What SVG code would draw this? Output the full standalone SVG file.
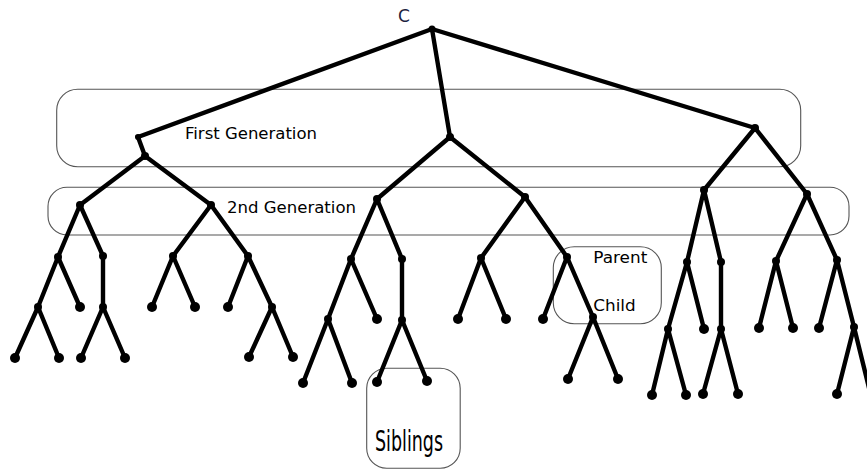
<svg xmlns="http://www.w3.org/2000/svg" width="867" height="470" viewBox="0 0 867 470">
<style>
.box{fill:none;stroke:#555;stroke-width:1.1}
.e{stroke:#000;stroke-width:4.4;stroke-linecap:round;fill:none}
.n{fill:#000}
.lf{fill:#000}
.lbl{font-family:"DejaVu Sans","Liberation Sans",sans-serif;fill:#000}
</style>
<rect width="867" height="470" fill="#fff"/>
<g id="annotations">
  <g id="box-first-generation"><rect class="box" x="56.7" y="89.3" width="744" height="77.4" rx="21" ry="21"/><text class="lbl" x="185" y="139" font-size="16" textLength="132" lengthAdjust="spacingAndGlyphs">First Generation</text></g>
  <g id="box-second-generation"><rect class="box" x="48" y="187.3" width="801" height="47.7" rx="19" ry="19"/><text class="lbl" x="227" y="213.3" font-size="16" textLength="129" lengthAdjust="spacingAndGlyphs">2nd Generation</text></g>
  <g id="box-parent-child"><rect class="box" x="553.3" y="246.7" width="108" height="77" rx="21" ry="21"/><text class="lbl" x="593.3" y="262.7" font-size="15" textLength="54" lengthAdjust="spacingAndGlyphs">Parent</text><text class="lbl" x="593.3" y="310.7" font-size="16" textLength="42.4" lengthAdjust="spacingAndGlyphs">Child</text></g>
  <g id="box-siblings"><rect class="box" x="366.7" y="368.3" width="93.5" height="100" rx="20" ry="20"/><text class="lbl" x="375" y="450.7" font-size="29" textLength="68" lengthAdjust="spacingAndGlyphs">Siblings</text></g>
</g>
<g id="connectors">
  <path class="e" d="M432,29 L138,137 L145,156"/>
  <path class="e" d="M432,29 L450,137"/>
  <path class="e" d="M432,29 L755,128"/>
  <path class="e" d="M145,156 L80,205 M145,156 L211,205"/>
  <path class="e" d="M80,205 L58,257 M80,205 L103,256"/>
  <path class="e" d="M58,257 L38,307 M58,257 L80,307"/>
  <path class="e" d="M38,307 L15,358 M38,307 L59,358"/>
  <path class="e" d="M103,256 L103,307"/>
  <path class="e" d="M103,307 L81,358 M103,307 L125,358"/>
  <path class="e" d="M211,205 L173,256 M211,205 L248,256"/>
  <path class="e" d="M173,256 L152,307 M173,256 L195,307"/>
  <path class="e" d="M248,256 L228,307 M248,256 L272,307"/>
  <path class="e" d="M272,307 L249,357 M272,307 L293,357"/>
  <path class="e" d="M450,137 L377,199 M450,137 L525,197"/>
  <path class="e" d="M377,199 L351,259 M377,199 L402,259"/>
  <path class="e" d="M351,259 L328,319 M351,259 L377,319"/>
  <path class="e" d="M328,319 L303,383 M328,319 L352,383"/>
  <path class="e" d="M402,259 L402,320"/>
  <path class="e" d="M402,320 L377,382 M402,320 L427,381"/>
  <path class="e" d="M525,197 L481,258 M525,197 L567,257"/>
  <path class="e" d="M481,258 L458,319 M481,258 L506,319"/>
  <path class="e" d="M567,257 L543,319 M567,257 L593,317"/>
  <path class="e" d="M593,317 L568,379 M593,317 L618,379"/>
  <path class="e" d="M755,128 L704,190 M755,128 L807,194"/>
  <path class="e" d="M704,190 L687,262 M704,190 L721,262"/>
  <path class="e" d="M687,262 L668,329 M687,262 L704,329"/>
  <path class="e" d="M668,329 L652,395 M668,329 L686,395"/>
  <path class="e" d="M721,262 L721,329"/>
  <path class="e" d="M721,329 L703,394 M721,329 L738,394"/>
  <path class="e" d="M807,194 L776,261 M807,194 L837,260"/>
  <path class="e" d="M776,261 L759,328 M776,261 L793,328"/>
  <path class="e" d="M837,260 L819,328 M837,260 L854,327"/>
  <path class="e" d="M854,327 L837,394 M854,327 L871,396"/>
</g>
<g id="root"><circle class="n" cx="432" cy="29" r="3.5"/><text x="398" y="21.5" font-family="'DejaVu Sans','Liberation Sans',sans-serif" font-size="17" fill="#1c2340">C</text></g>
<g id="n-A0"><circle class="n" cx="138" cy="137" r="3"/></g>
<g id="n-A"><circle class="n" cx="145" cy="156" r="4"/></g>
<g id="n-A1"><circle class="n" cx="80" cy="205" r="4"/></g>
<g id="n-A2"><circle class="n" cx="211" cy="205" r="4"/></g>
<g id="n-A11"><circle class="n" cx="58" cy="257" r="4"/></g>
<g id="n-A12"><circle class="n" cx="103" cy="256" r="4"/></g>
<g id="n-A111"><circle class="n" cx="38" cy="307" r="4"/></g>
<g id="n-A112"><circle class="lf" cx="80" cy="307" r="5"/></g>
<g id="n-A1111"><circle class="lf" cx="15" cy="358" r="5"/></g>
<g id="n-A1112"><circle class="lf" cx="59" cy="358" r="5"/></g>
<g id="n-A121"><circle class="n" cx="103" cy="307" r="4"/></g>
<g id="n-A1211"><circle class="lf" cx="81" cy="358" r="5"/></g>
<g id="n-A1212"><circle class="lf" cx="125" cy="358" r="5"/></g>
<g id="n-A21"><circle class="n" cx="173" cy="256" r="4"/></g>
<g id="n-A22"><circle class="n" cx="248" cy="256" r="4"/></g>
<g id="n-A211"><circle class="lf" cx="152" cy="307" r="5"/></g>
<g id="n-A212"><circle class="lf" cx="195" cy="307" r="5"/></g>
<g id="n-A221"><circle class="lf" cx="228" cy="307" r="5"/></g>
<g id="n-A222"><circle class="n" cx="272" cy="307" r="4"/></g>
<g id="n-A2221"><circle class="lf" cx="249" cy="357" r="5"/></g>
<g id="n-A2222"><circle class="lf" cx="293" cy="357" r="5"/></g>
<g id="n-B"><circle class="n" cx="450" cy="137" r="4"/></g>
<g id="n-B1"><circle class="n" cx="377" cy="199" r="4"/></g>
<g id="n-B2"><circle class="n" cx="525" cy="197" r="4"/></g>
<g id="n-B11"><circle class="n" cx="351" cy="259" r="4"/></g>
<g id="n-B12"><circle class="n" cx="402" cy="259" r="4"/></g>
<g id="n-B111"><circle class="n" cx="328" cy="319" r="4"/></g>
<g id="n-B112"><circle class="lf" cx="377" cy="319" r="5"/></g>
<g id="n-B1111"><circle class="lf" cx="303" cy="383" r="5"/></g>
<g id="n-B1112"><circle class="lf" cx="352" cy="383" r="5"/></g>
<g id="n-B121"><circle class="n" cx="402" cy="320" r="4"/></g>
<g id="n-B1211"><circle class="lf" cx="377" cy="382" r="5"/></g>
<g id="n-B1212"><circle class="lf" cx="427" cy="381" r="5"/></g>
<g id="n-B21"><circle class="n" cx="481" cy="258" r="4"/></g>
<g id="n-B22"><circle class="n" cx="567" cy="257" r="4"/></g>
<g id="n-B211"><circle class="lf" cx="458" cy="319" r="5"/></g>
<g id="n-B212"><circle class="lf" cx="506" cy="319" r="5"/></g>
<g id="n-B221"><circle class="lf" cx="543" cy="319" r="5"/></g>
<g id="n-B222"><circle class="n" cx="593" cy="317" r="4"/></g>
<g id="n-B2221"><circle class="lf" cx="568" cy="379" r="5"/></g>
<g id="n-B2222"><circle class="lf" cx="618" cy="379" r="5"/></g>
<g id="n-C"><circle class="n" cx="755" cy="128" r="4"/></g>
<g id="n-C1"><circle class="n" cx="704" cy="190" r="4"/></g>
<g id="n-C2"><circle class="n" cx="807" cy="194" r="4"/></g>
<g id="n-C11"><circle class="n" cx="687" cy="262" r="4"/></g>
<g id="n-C12"><circle class="n" cx="721" cy="262" r="4"/></g>
<g id="n-C111"><circle class="n" cx="668" cy="329" r="4"/></g>
<g id="n-C112"><circle class="lf" cx="704" cy="329" r="5"/></g>
<g id="n-C1111"><circle class="lf" cx="652" cy="395" r="5"/></g>
<g id="n-C1112"><circle class="lf" cx="686" cy="395" r="5"/></g>
<g id="n-C121"><circle class="n" cx="721" cy="329" r="4"/></g>
<g id="n-C1211"><circle class="lf" cx="703" cy="394" r="5"/></g>
<g id="n-C1212"><circle class="lf" cx="738" cy="394" r="5"/></g>
<g id="n-C21"><circle class="n" cx="776" cy="261" r="4"/></g>
<g id="n-C22"><circle class="n" cx="837" cy="260" r="4"/></g>
<g id="n-C211"><circle class="lf" cx="759" cy="328" r="5"/></g>
<g id="n-C212"><circle class="lf" cx="793" cy="328" r="5"/></g>
<g id="n-C221"><circle class="lf" cx="819" cy="328" r="5"/></g>
<g id="n-C222"><circle class="n" cx="854" cy="327" r="4"/></g>
<g id="n-C2221"><circle class="lf" cx="837" cy="394" r="5"/></g>
</svg>
